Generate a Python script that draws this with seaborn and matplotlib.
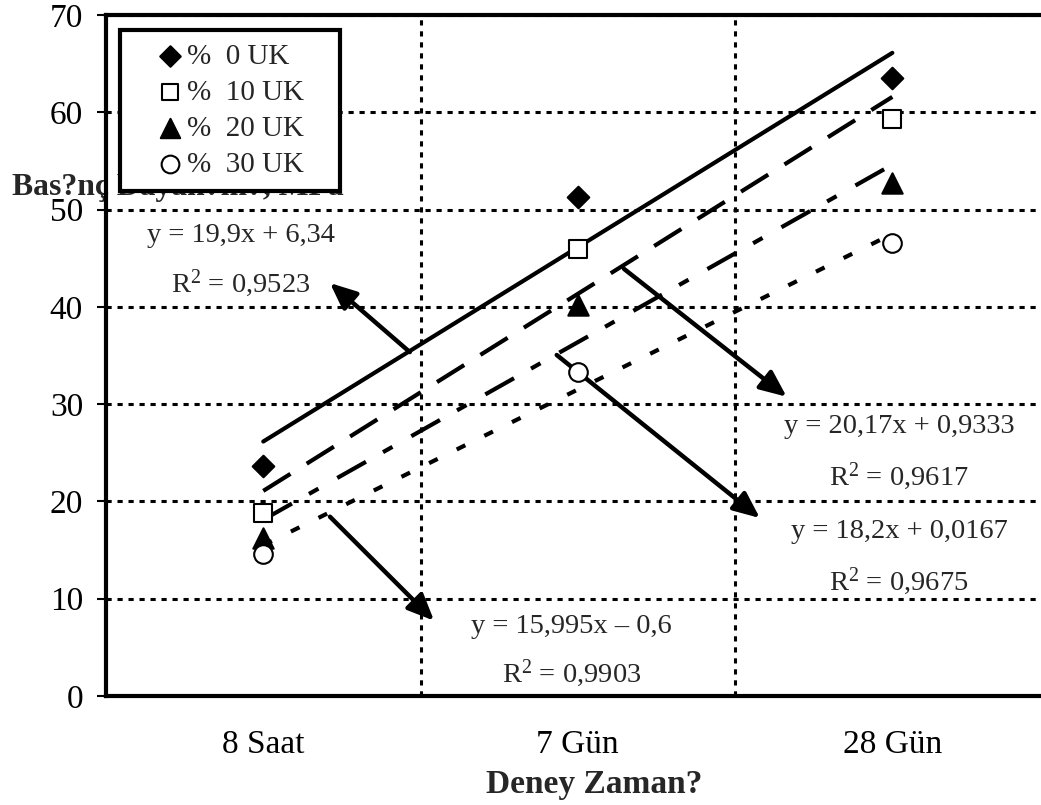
import numpy as np
import matplotlib
matplotlib.use("Agg")
import matplotlib.pyplot as plt
import seaborn as sns

# Deney zamanları ve basınç dayanımları (MPa)
zaman = ["8 Saat", "7 Gün", "28 Gün"]
uk0 = [23.6, 51.25, 63.55]
uk10 = [18.8, 45.9, 59.3]
uk20 = [16.2, 40.2, 52.7]
uk30 = [14.6, 33.3, 46.6]
etiketler = ["%  0 UK", "%  10 UK", "%  20 UK", "%  30 UK"]
denklemler = ["y = 19,9x + 6,34", "y = 20,17x + 0,9333",
              "y = 18,2x + 0,0167", "y = 15,995x \u2013 0,6"]
r2 = ["0,9523", "0,9617", "0,9675", "0,9903"]

sns.set_theme(style="white")
plt.rcParams["font.family"] = ["Liberation Serif", "DejaVu Serif"]
plt.rcParams["mathtext.fontset"] = "custom"
plt.rcParams["mathtext.rm"] = "Liberation Serif"

fig = plt.figure(figsize=(10.41, 8.05), dpi=100)
ax = fig.add_axes([106 / 1041, 109 / 805, 943.6 / 1041, 681 / 805])

x = np.arange(1, len(zaman) + 1)
seriler = [uk0, uk10, uk20, uk30]
isaretler = ["D", "s", "^", "o"]
boyutlar = [121, 160, 215, 180]
dolgular = ["black", "white", "black", "white"]
cizgiler = ["-", (0, (7.7, 4.6)), (0, (7.9, 4.7, 2.6, 5.2)), (0, (2.3, 5.1))]

for y, m, s, fc, ls, lab in zip(seriler, isaretler, boyutlar, dolgular, cizgiler, etiketler):
    sns.regplot(x=x, y=y, ax=ax, scatter=False, ci=None, truncate=True,
                line_kws=dict(color="black", lw=3, linestyle=ls, zorder=3))
    sns.scatterplot(x=x, y=y, ax=ax, marker=m, s=s, color=fc, edgecolor="black",
                    linewidth=1.5, label=lab, zorder=4)

ax.set_xlim(0.5, 3.5)
ax.set_ylim(0, 70)
ax.set_yticks(range(0, 71, 10))
ax.set_xticks([1.5, 2.5])
ax.set_xticklabels([])
ax.set_xticks(x, minor=True)
ax.set_xticklabels(zaman, minor=True)
ax.tick_params(axis="x", which="both", length=0, pad=24, labelsize=24, colors="black")
ax.tick_params(axis="y", length=6.5, width=1.5, direction="out", pad=10,
               labelsize=24, colors="black", left=True)
ax.grid(True, which="major", color="black", linestyle=(0, (1.7, 1.9)), lw=2.2)
for sp in ax.spines.values():
    sp.set_color("black")
    sp.set_linewidth(3)

ax.set_xlabel("Deney Zaman?", fontsize=24, fontweight="bold")
ax.xaxis.set_label_coords(0.517, -0.143)
ax.xaxis.label.set(va="baseline", ha="center")
ax.set_ylabel("Bas?nç Dayan?m?, MPa", fontsize=22.8, fontweight="bold")
ax.yaxis.set_label_coords(-0.0996, 0.7357)
ax.yaxis.label.set(rotation=0, ha="left", va="baseline")

leg = ax.legend(loc="upper left", bbox_to_anchor=(0.0148, 0.7357, 0.2331, 0.2423),
                mode="expand", borderaxespad=0,
                fontsize=21, frameon=True, fancybox=False, framealpha=1,
                edgecolor="black", handlelength=2.5, handletextpad=-0.65,
                labelspacing=0.33, markerscale=0.95, borderpad=0.45)
leg.get_frame().set_linewidth(3)
leg.set_zorder(6)

# Denklem etiketleri ve oklar
metin_yer = [(0.929, 46.7, 41.55), (3.021, 27.0, 21.7), (3.021, 16.2, 10.9), (1.98, 6.5, 1.47)]
ok_kuyruk = [(1.466, 35.35), (2.147, 43.9), (1.933, 35.05), (1.212, 18.43)]
ok_bas = [(1.212, 42.45), (2.664, 30.76), (2.579, 18.29), (1.543, 7.74)]
for d, r, (tx, ty1, ty2), k, b in zip(denklemler, r2, metin_yer, ok_kuyruk, ok_bas):
    ax.text(tx, ty1, d, fontsize=20.5, ha="center", va="baseline", zorder=5)
    ax.text(tx, ty2, "$\\mathregular{R^2}$ = " + r, fontsize=20.5, ha="center",
            va="baseline", zorder=5)
    ax.annotate("", xy=b, xytext=k,
                arrowprops=dict(arrowstyle="-|>,head_length=0.8,head_width=0.35",
                                color="black", lw=3.2, shrinkA=0, shrinkB=0,
                                mutation_scale=20))

fig.savefig("out.png", dpi=100)
